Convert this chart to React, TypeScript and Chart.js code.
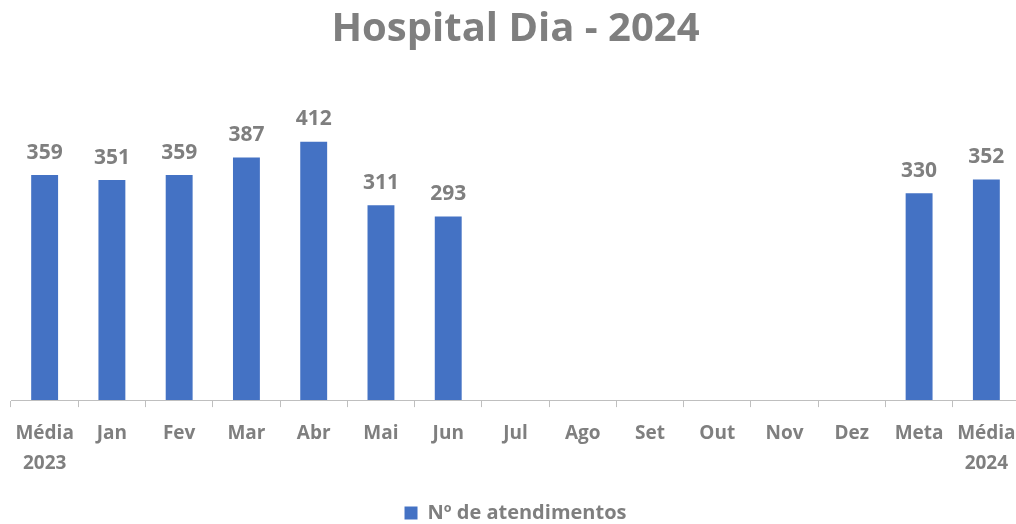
import React, { useEffect, useRef } from "react";
import { Chart, registerables } from "chart.js";

Chart.register(...registerables);

const categories: (string | string[])[] = [
  ["Média", "2023"], "Jan", "Fev", "Mar", "Abr", "Mai", "Jun", "Jul", "Ago", "Set", "Out", "Nov", "Dez", "Meta", ["Média", "2024"],
];
const atendimentos: (number | null)[] = [359, 351, 359, 387, 412, 311, 293, null, null, null, null, null, null, 330, 352];
const seriesName = "Nº de atendimentos";
const titleText = "Hospital Dia - 2024";

const GREY = "#7f7f7f";
const BLUE = "#4472C4";
const FONT = "'Open Sans', sans-serif";

const valueLabels = {
  id: "valueLabels",
  afterDatasetsDraw(chart: any) {
    const { ctx } = chart;
    const meta = chart.getDatasetMeta(0);
    ctx.save();
    ctx.font = `bold 21px ${FONT}`;
    ctx.fillStyle = GREY;
    ctx.textAlign = "center";
    ctx.textBaseline = "bottom";
    meta.data.forEach((bar: any, i: number) => {
      const v = chart.data.datasets[0].data[i];
      if (v === null || v === undefined) return;
      ctx.fillText(String(v), bar.x, bar.y - 12);
    });
    ctx.restore();
  },
};

export default function App() {
  const ref = useRef<HTMLCanvasElement>(null);
  useEffect(() => {
    if (!ref.current) return;
    const chart = new Chart(ref.current, {
      type: "bar",
      data: {
        labels: categories,
        datasets: [
          {
            label: seriesName,
            data: atendimentos,
            backgroundColor: BLUE,
            borderWidth: 0,
            barPercentage: 0.4,
            categoryPercentage: 1,
          },
        ],
      },
      options: {
        animation: false,
        responsive: true,
        maintainAspectRatio: false,
        layout: { padding: { left: 11, right: 10, top: 0, bottom: -9 } },
        plugins: {
          title: {
            display: true,
            text: titleText,
            color: GREY,
            font: { family: FONT, size: 40, weight: "bold" },
            padding: { top: 6, bottom: 22 },
          },
          legend: {
            display: true,
            position: "bottom",
            labels: {
              color: GREY,
              font: { family: FONT, size: 20, weight: "bold" },
              boxWidth: 13,
              boxHeight: 13,
              padding: 4,
            },
          },
          tooltip: { enabled: false },
        },
        scales: {
          x: {
            offset: true,
            grid: {
              display: true,
              offset: true,
              drawOnChartArea: false,
              drawTicks: true,
              tickLength: 7,
              tickColor: "#bfbfbf",
              color: "#bfbfbf",
            },
            border: { display: true, color: "#bfbfbf", width: 1 },
            ticks: {
              color: GREY,
              font: { family: FONT, size: 19, weight: "bold", lineHeight: 1.55 },
              maxRotation: 0,
              autoSkip: false,
              padding: 12,
            },
            afterFit(scale: any) {
              scale.height += 9;
            },
          },
          y: {
            display: false,
            min: 0,
            max: 517,
          },
        },
      },
      plugins: [valueLabels],
    });
    return () => chart.destroy();
  }, []);
  return (
    <div style={{ position: "absolute", left: 0, top: 0, width: 1016, height: 524, overflow: "hidden", background: "#fff" }}>
      <div style={{ position: "absolute", left: 0, top: 0, width: 1030, height: 524 }}>
        <canvas ref={ref} />
      </div>
    </div>
  );
}
